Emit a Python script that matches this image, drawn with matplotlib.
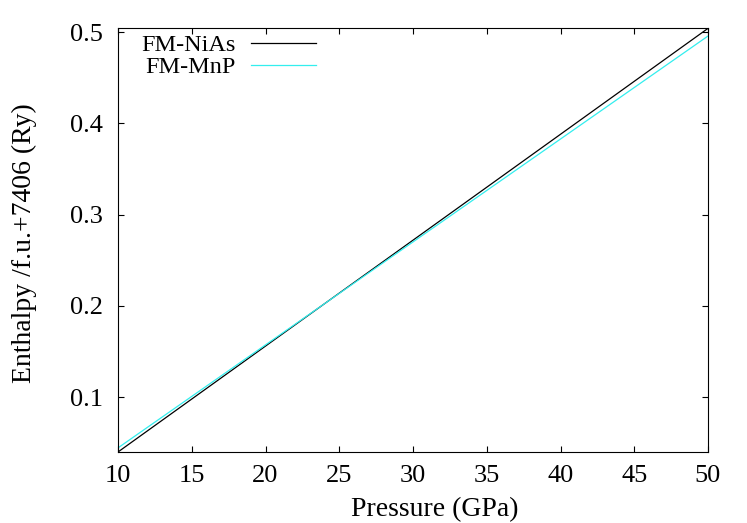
import matplotlib
matplotlib.use("Agg")
import matplotlib.pyplot as plt

plt.rcParams['font.family'] = ['Liberation Serif', 'DejaVu Serif']

# pressure (GPa) and enthalpy per f.u. + 7406 (Ry)
pressure = [10, 20, 30, 40, 50]
h_nias = [0.040, 0.156, 0.272, 0.388, 0.504]
h_mnp = [0.0445, 0.1573, 0.2701, 0.3828, 0.4956]

fig = plt.figure(figsize=(7.47, 5.23), dpi=100)
ax = fig.add_axes([118 / 747, 71 / 523, 590 / 747, 424 / 523])

ax.plot(pressure, h_nias, color='black', lw=0.9, label='FM-NiAs')
ax.plot(pressure, h_mnp, color='#33eeee', lw=0.9, label='FM-MnP')

ax.set_xlim(10, 50)
ax.set_ylim(0.04, 0.5044)
ax.set_xticks(range(10, 51, 5))
ax.set_yticks([0.1, 0.2, 0.3, 0.4, 0.5])
ax.tick_params(direction='in', top=True, right=True, labelsize=19, length=4.5)
ax.tick_params(axis='x', pad=9.5)
ax.tick_params(axis='y', pad=11)

ax.set_xlabel('Pressure (GPa)', fontsize=20, va='center')
ax.xaxis.set_label_coords(0.537, -0.137)
ax.set_ylabel('Enthalpy /f.u.+7406 (Ry)', fontsize=20, va='center')
ax.yaxis.set_label_coords(-0.159, 0.493)

leg = ax.legend(loc='upper left', frameon=False, markerfirst=False, fontsize=17.5,
                handlelength=2.67, handletextpad=0.62, borderaxespad=0.0,
                borderpad=0.25, labelspacing=0.0, bbox_to_anchor=(0.03, 1.0))

fig.savefig('out.png', dpi=100)
